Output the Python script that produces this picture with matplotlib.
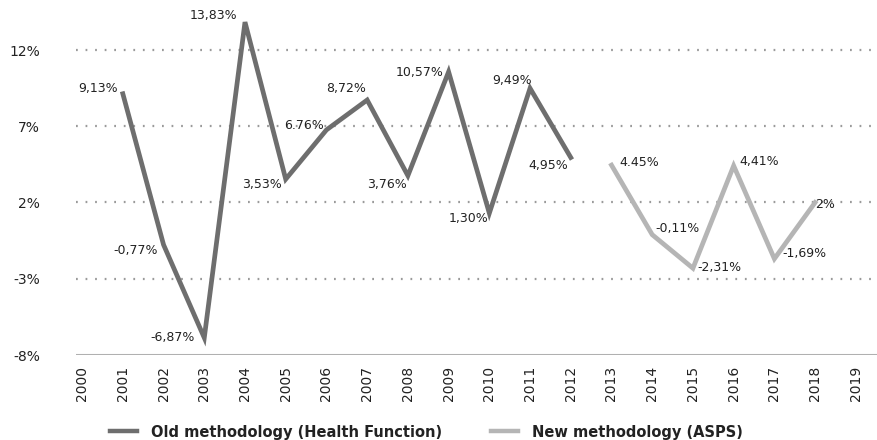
import matplotlib
matplotlib.use("Agg")
import matplotlib.pyplot as plt
from matplotlib.lines import Line2D

years = [str(y) for y in range(2000, 2020)]
old_years = list(range(2001, 2013))
old_values = [9.13, -0.77, -6.87, 13.83, 3.53, 6.76, 8.72, 3.76, 10.57, 1.30, 9.49, 4.95]
old_labels = ["9,13%", "-0,77%", "-6,87%", "13,83%", "3,53%", "6.76%", "8,72%",
              "3,76%", "10,57%", "1,30%", "9,49%", "4,95%"]
new_years = list(range(2013, 2019))
new_values = [4.45, -0.11, -2.31, 4.41, -1.69, 2.0]
new_labels = ["4.45%", "-0,11%", "-2,31%", "4,41%", "-1,69%", "2%"]
y_ticks = [-8, -3, 2, 7, 12]
y_ticklabels = ["-8%", "-3%", "2%", "7%", "12%"]

old_color = "#6e6e6e"
new_color = "#b5b5b5"
text_color = "#222222"

old_offsets = [(-5, 5, "right"), (-6, -6, "right"), (-10, 0, "right"), (-8, 7, "right"),
               (-4, -5, "right"), (-3, 4, "right"), (-1, 12, "right"), (-1, -9, "right"),
               (-5, -1, "right"), (-1, -5, "right"), (2, 8, "right"), (-3, -8, "right")]
new_offsets = [(8, 3, "left"), (3, 6, "left"), (4, 1, "left"), (6, 4, "left"),
               (8, 5, "left"), (0, -2, "left")]

fig = plt.figure(figsize=(8.77, 4.40), dpi=100)
ax = fig.add_axes([76 / 877, 85 / 440, 1 - 76 / 877, 355 / 440])

xo = [years.index(str(y)) for y in old_years]
xn = [years.index(str(y)) for y in new_years]
ax.plot(xo, old_values, color=old_color, lw=3.4, solid_joinstyle="miter", zorder=3)
ax.plot(xn, new_values, color=new_color, lw=3.4, solid_joinstyle="miter", zorder=3)

for x, v, lab, (dx, dy, ha) in zip(xo, old_values, old_labels, old_offsets):
    ax.annotate(lab, (x, v), xytext=(dx, dy), textcoords="offset pixels",
                ha=ha, va="center", fontsize=9, color=text_color, zorder=4)
for x, v, lab, (dx, dy, ha) in zip(xn, new_values, new_labels, new_offsets):
    ax.annotate(lab, (x, v), xytext=(dx, dy), textcoords="offset pixels",
                ha=ha, va="center", fontsize=9, color=text_color, zorder=4)

ax.set_xlim(-0.15, 19.52)
ax.set_ylim(-8, 12 + 50 / 15.25)
for g in y_ticks[1:]:
    ax.axhline(g, color="#9a9a9a", lw=1.6, linestyle=(0, (0.8, 3.5)), zorder=1)
ax.axhline(-8, color="#b0b0b0", lw=2.2, zorder=2)

for s in ax.spines.values():
    s.set_visible(False)
ax.set_xticks(range(len(years)))
ax.set_xticklabels(years, rotation=90, fontsize=10, color=text_color)
ax.set_yticks(y_ticks)
ax.set_yticklabels(y_ticklabels, fontsize=10, color=text_color)
ax.tick_params(axis="both", length=0)
ax.tick_params(axis="x", pad=8)
ax.tick_params(axis="y", pad=26)

handles = [Line2D([0], [0], color=old_color, lw=3.2),
           Line2D([0], [0], color=new_color, lw=3.2)]
fig.legend(handles, ["Old methodology (Health Function)", "New methodology (ASPS)"],
           loc="center", bbox_to_anchor=(0.4863, 8 / 440), ncol=2, frameon=False,
           prop={"weight": "bold", "size": 10.5}, handlelength=1.85, columnspacing=3.3,
           handletextpad=1.0, labelcolor=text_color)

fig.savefig("out.png", dpi=100)
